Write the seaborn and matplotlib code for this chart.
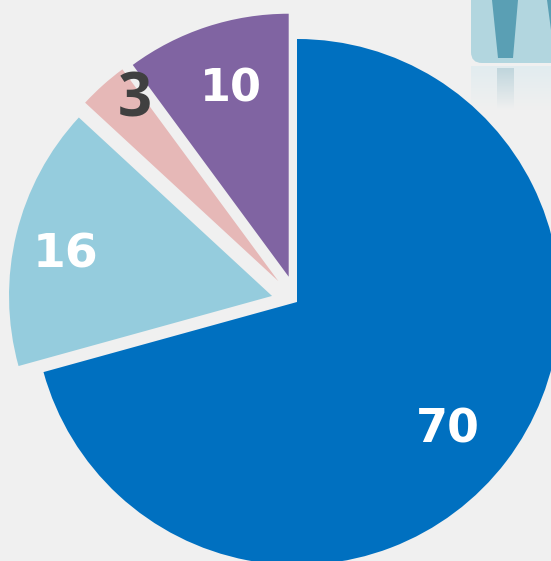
#!/usr/bin/env python3
"""Exploded pie chart with a cropped decoration in the top right corner."""

import numpy as np
import matplotlib
matplotlib.use('Agg')
import matplotlib.pyplot as plt
from matplotlib.patches import FancyBboxPatch, Polygon
from matplotlib.colors import LinearSegmentedColormap
import seaborn as sns

values = [70, 16, 3, 10]
labels = ['70', '16', '3', '10']
colors = ['#0070c0', '#95ccdd', '#e6b8b7', '#8064a2']
label_colors = ['white', 'white', '#404040', 'white']

W, H = 551, 561
BG = '#f0f0f0'

sns.set_theme(style='white', rc={'figure.facecolor': BG, 'axes.facecolor': BG})
plt.rcParams['font.family'] = ['DejaVu Sans']

fig = plt.figure(figsize=(W / 100, H / 100), dpi=100)
ax = fig.add_axes([0, 0, 1, 1])

# explode 在这里是数据单位（像素）
ax.pie(values, colors=colors, explode=[0, 25.7, 28, 26.6], startangle=90, counterclock=False,
       center=(297, H - 302), radius=263, frame=True, wedgeprops={'linewidth': 0})
ax.set_aspect('equal')
ax.axis('off')
fig.patch.set_facecolor(BG)

# 数字标签
label_pos = [(448, 430), (66, 255), (135, 101), (231, 89)]
label_size = [33, 34, 43, 32]
label_family = ['DejaVu Sans', 'DejaVu Sans', 'Open Sans', 'DejaVu Sans']
for txt, col, (x, y), size, fam in zip(labels, label_colors, label_pos, label_size, label_family):
    ax.text(x, H - y, txt, color=col, fontsize=size, fontweight='bold', family=fam,
            ha='center', va='center')

# 右上角的装饰
ax.add_patch(FancyBboxPatch((471, H - 63), 110, 90, boxstyle='round,pad=0,rounding_size=11',
                            fc='#b2d6df', ec='none', lw=0, zorder=3))
ax.add_patch(Polygon([(492, H), (518, H), (513, H - 58), (498, H - 58)],
                     closed=True, fc='#5a9fb4', ec='none', zorder=4))
ax.add_patch(Polygon([(547, H), (551, H), (551, H - 30)],
                     closed=True, fc='#5a9fb4', ec='none', zorder=4))

# 倒影，放在饼图后面
fade = np.linspace(1, 0, 64).reshape(-1, 1)
cmap_a = LinearSegmentedColormap.from_list('fade_a', [BG, '#e2ecef'])
cmap_b = LinearSegmentedColormap.from_list('fade_b', [BG, '#c0d6dd'])
ax.imshow(fade, extent=(471, 551, H - 110, H - 66), cmap=cmap_a, vmin=0, vmax=1,
          aspect='auto', zorder=0.2, origin='upper')
ax.imshow(fade, extent=(497, 514, H - 110, H - 68), cmap=cmap_b, vmin=0, vmax=1,
          aspect='auto', zorder=0.4, origin='upper')
ax.set_xlim(0, W)
ax.set_ylim(0, H)

fig.savefig('out.png', dpi=100, facecolor=BG)
